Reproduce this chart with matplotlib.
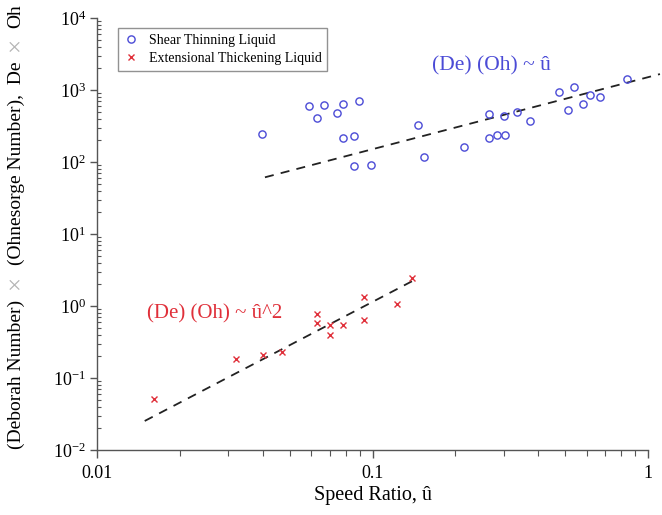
import matplotlib
matplotlib.use("Agg")
import matplotlib.pyplot as plt
import numpy as np

plt.rcParams['font.family'] = ['Liberation Serif', 'DejaVu Serif']
plt.rcParams['mathtext.fontset'] = 'custom'
plt.rcParams['mathtext.rm'] = 'Liberation Serif'
plt.rcParams['mathtext.it'] = 'Liberation Serif:italic'

# ---- data ----
shear_u = [0.0396, 0.0590, 0.0668, 0.0782, 0.0891, 0.0629, 0.0741, 0.0782, 0.0857,
           0.0859, 0.099, 0.1457, 0.1538, 0.2148, 0.264, 0.2655, 0.2824, 0.302,
           0.300, 0.3338, 0.374, 0.474, 0.539, 0.511, 0.582, 0.617, 0.670, 0.837]
shear_y = [245, 605, 625, 639, 697, 412, 480, 213, 232, 88, 91, 324, 119, 163,
           464, 215, 239, 235, 439, 490, 375, 938, 1090, 532, 646, 853, 792, 1436]

ext_u = [0.01614, 0.0319, 0.0399, 0.0471, 0.0629, 0.0629, 0.0701, 0.0701, 0.0779,
         0.0931, 0.0931, 0.123, 0.1395]
ext_y = [0.0506, 0.1836, 0.2054, 0.2317, 0.769, 0.575, 0.548, 0.398, 0.541,
         1.346, 0.639, 1.063, 2.43]

fit_shear_u = [0.0407, 1.105]
fit_shear_coef, fit_shear_exp = 1506.0, 1.0
fit_ext_u = [0.0149, 0.1447]
fit_ext_coef, fit_ext_exp = 114.0, 2.0

x_ticks = [0.01, 0.1, 1]
x_ticklabels = ["0.01", "0.1", "1"]
y_ticks = [1e-2, 1e-1, 1e0, 1e1, 1e2, 1e3, 1e4]
y_ticklabels = [r"$\mathregular{10^{-2}}$", r"$\mathregular{10^{-1}}$", r"$\mathregular{10^{0}}$",
                r"$\mathregular{10^{1}}$", r"$\mathregular{10^{2}}$", r"$\mathregular{10^{3}}$",
                r"$\mathregular{10^{4}}$"]

W, H = 662, 515
fig = plt.figure(figsize=(W / 100, H / 100), dpi=100)
ax = fig.add_axes([97 / W, 1 - 450 / H, (648 - 97) / W, (450 - 18) / H])

blue = '#4b4bd6'
red = '#e0303a'

ax.plot(shear_u, shear_y, linestyle='none', marker='o', markersize=5.2,
        markerfacecolor='none', markeredgecolor=blue, markeredgewidth=1.0,
        label='Shear Thinning Liquid', zorder=3)
ax.plot(ext_u, ext_y, linestyle='none', marker='x', markersize=5,
        color=red, markeredgewidth=1.0, label='Extensional Thickening Liquid', zorder=3)

fu = np.array(fit_shear_u)
ax.plot(fu, fit_shear_coef * fu ** fit_shear_exp, color='#222222', lw=1.3,
        dashes=(5, 4), clip_on=False, zorder=2)
fe = np.array(fit_ext_u)
ax.plot(fe, fit_ext_coef * fe ** fit_ext_exp, color='#222222', lw=1.3,
        dashes=(5, 4), clip_on=False, zorder=2)

ax.text(0.164, 2154, "(De) (Oh) ~ û", color=blue, fontsize=15.5, ha='left', va='center')
ax.text(0.01515, 0.774, "(De) (Oh) ~ û^2", color=red, fontsize=15, ha='left', va='center')

ax.set_xscale('log')
ax.set_yscale('log')
ax.set_xlim(0.01, 1)
ax.set_ylim(1e-2, 1e4)
ax.set_xticks(x_ticks)
ax.set_xticklabels(x_ticklabels)
ax.set_yticks(y_ticks)
ax.set_yticklabels(y_ticklabels)

for s in ['top', 'right']:
    ax.spines[s].set_visible(False)
for s in ['left', 'bottom']:
    ax.spines[s].set_color('#555555')
    ax.spines[s].set_linewidth(1.0)

ax.yaxis.set_minor_locator(matplotlib.ticker.LogLocator(base=10, subs=np.arange(2, 10), numticks=20))
ax.xaxis.set_minor_locator(matplotlib.ticker.LogLocator(base=10, subs=np.arange(2, 10), numticks=20))
ax.yaxis.set_minor_formatter(matplotlib.ticker.NullFormatter())
ax.xaxis.set_minor_formatter(matplotlib.ticker.NullFormatter())
ax.tick_params(axis='y', which='major', direction='out', length=5, width=1, color='#555555',
               labelsize=13, pad=3)
ax.tick_params(axis='y', which='minor', direction='in', length=3, width=0.8, color='#555555')
ax.tick_params(axis='x', which='major', direction='out', length=6, width=1, color='#555555',
               labelsize=13, pad=5)
ax.tick_params(axis='x', which='minor', direction='out', length=4, width=0.8, color='#555555')

ax.set_xlabel("Speed Ratio, û", fontsize=14.5, labelpad=3)

leg = ax.legend(loc='upper left', bbox_to_anchor=(118 / W, 1 - 28 / H),
                bbox_transform=fig.transFigure, fontsize=10, frameon=True,
                fancybox=False, edgecolor='#777777', handlelength=1.0,
                handletextpad=0.8, borderpad=0.4, labelspacing=0.4,
                borderaxespad=0)
leg.get_frame().set_linewidth(1.0)

# ---- multi-colour rotated y label ----
pieces = [("(Deborah Number)", 'black', 14), ("×", '#b5b5b5', 18),
          ("(Ohnesorge Number),  De", 'black', 14), ("×", '#b5b5b5', 18), ("Oh", 'black', 14)]
gaps = [10, 10, 10, 10]
label_x = 16 / W
texts = []
for s, c, fs in pieces:
    t = fig.text(label_x, 0, s, rotation=90, color=c, fontsize=fs,
                 ha='center', va='bottom')
    texts.append(t)
fig.canvas.draw()
r = fig.canvas.get_renderer()
lens = [t.get_window_extent(r).height for t in texts]
total = sum(lens) + sum(gaps)
top_px = 4
y0 = (H - top_px) - total
cur = y0
for i, t in enumerate(texts):
    t.set_y(cur / H)
    cur += lens[i]
    if i < len(gaps):
        cur += gaps[i]

fig.savefig("out.png", dpi=100)
